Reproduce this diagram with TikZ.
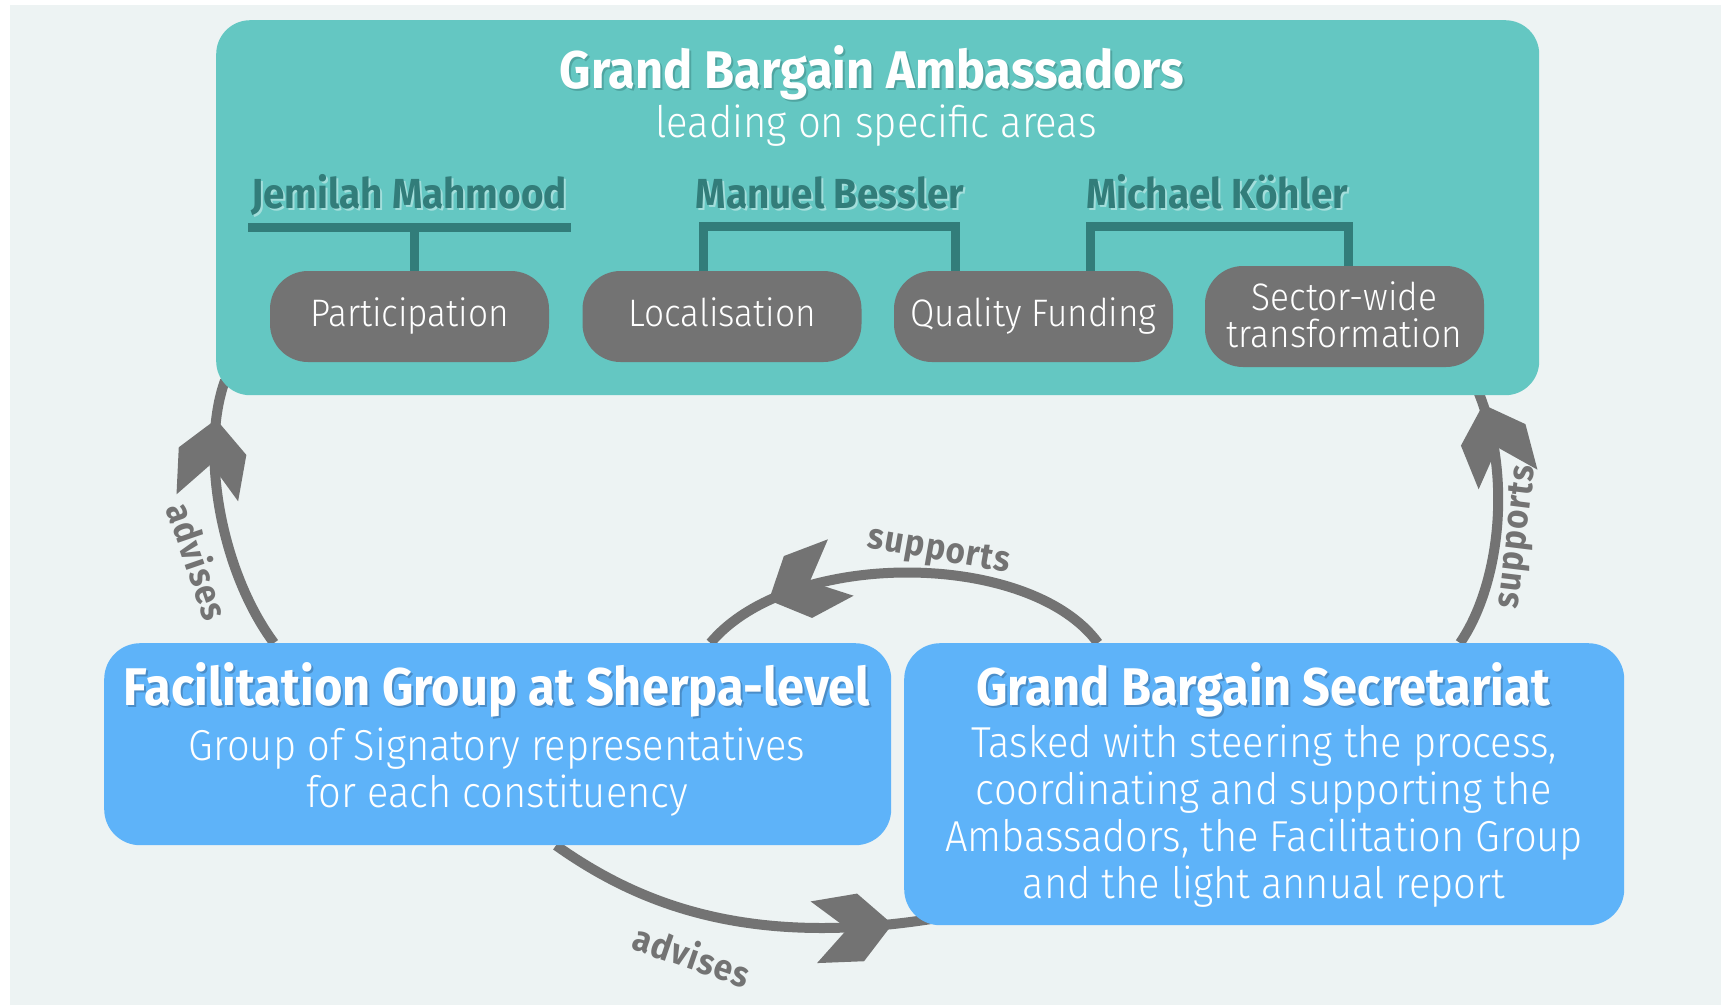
\documentclass[tikz,border=0pt]{standalone}
\usepackage{fontspec}
\setmainfont{Fira Sans}[FakeStretch=0.92]
\IfFontExistsTF{Fira Sans Light}{\newfontfamily\lightfont{Fira Sans Light}[FakeStretch=0.92]}{\newcommand\lightfont{\normalfont}}
\usetikzlibrary{calc,decorations.markings}
\definecolor{bgc}{HTML}{EDF3F3}
\definecolor{tealbox}{HTML}{64C7C2}
\definecolor{tealdark}{HTML}{327D7A}
\definecolor{tealshadow}{HTML}{4FA5A1}
\definecolor{tealhi}{HTML}{A3DEDB}
\definecolor{pillc}{HTML}{737373}
\definecolor{bluebox}{HTML}{5EB3F9}
\definecolor{blueshadow}{HTML}{4A8DC8}
\definecolor{arrowc}{HTML}{737373}
\pgfdeclarelayer{bg}
\pgfsetlayers{bg,main}
\newcommand\shtext[2]{\leavevmode\rlap{\kern2pt\raisebox{-2pt}{\color{#1}#2}}#2}
\tikzset{
  flow/.style={draw=arrowc, line width=10pt, postaction={decorate},
    decoration={markings, mark=at position #1 with {\fill[arrowc] (2,0) -- (-30,34) -- (-77,31) -- (-43,0) -- (-77,-31) -- (-30,-34) -- cycle;}}},
  pillbox/.style={fill=pillc, rounded corners=38pt, minimum width=279pt, minimum height=91pt,
    text=white, align=center, inner sep=0pt, font=\fontsize{38.3}{37}\selectfont\lightfont},
  onepill/.style={pillbox, text height=28pt, text depth=9pt},
  bluerect/.style={fill=bluebox, rounded corners=36pt, inner sep=0pt, anchor=north west},
  bracket/.style={draw=tealdark, line width=9pt, line join=miter},
  namelbl/.style={text=tealdark, anchor=base, inner sep=0pt, font=\fontsize{42}{44}\selectfont\bfseries},
  titlelbl/.style={text=white, anchor=base, inner sep=0pt, font=\fontsize{53}{56}\selectfont\bfseries},
  bodylbl/.style={text=white, anchor=north, inner sep=0pt, align=center, font=\fontsize{43.3}{47}\selectfont\lightfont},
  flowlbl/.style={text=arrowc, inner sep=0pt, font=\fontsize{36}{38}\selectfont\bfseries\addfontfeature{LetterSpace=3}},
}
\begin{document}
\begin{tikzpicture}[x=1pt,y=-1pt]
\useasboundingbox (0,0) rectangle (1721,1005);
% boxes
\node[fill=tealbox, rounded corners=34pt, minimum width=1323pt, minimum height=375pt, inner sep=0pt, anchor=north west] (amb) at (216,20) {};
\node[bluerect, minimum width=787pt, minimum height=202pt] (fg) at (104,643) {};
\node[bluerect, minimum width=720pt, minimum height=282pt] (sec) at (904,643) {};
% top box texts
\node[titlelbl] (ambt) at (872,88) {\shtext{tealshadow}{Grand Bargain Ambassadors}};
\node[text=white, anchor=base, inner sep=0pt, font=\fontsize{43.5}{48}\selectfont\lightfont] (ambs) at (876,137) {leading on specific areas};
\node[namelbl] (n1) at (409,208) {\shtext{tealhi}{Jemilah Mahmood}};
\node[namelbl] (n2) at (830,208) {\shtext{tealhi}{Manuel Bessler}};
\node[namelbl] (n3) at (1217,208) {\shtext{tealhi}{Michael Köhler}};
% pills
\node[onepill] (p1) at (409.5,316.5) {Participation};
\node[onepill] (p2) at (722,316.5) {Localisation};
\node[onepill] (p3) at (1033.5,316.5) {Quality Funding};
\node[pillbox, minimum height=101pt] (p4) at (1344.5,316.5) {\raisebox{4pt}{Sector-wide}\\\raisebox{4pt}{transformation}};
% brackets
\coordinate (jl) at (248,227);
\coordinate (jr) at (571,227);
\draw[bracket] (jl) -- (jr);
\draw[bracket] ($(p1.north)+(5,0)$) -- ($(p1.north)+(5,-44)$);
\draw[bracket] ($(p2.north west)+(121,0)$) |- ($(p3.north west)+(62,-44)$) -- ($(p3.north west)+(62,0)$);
\draw[bracket] ($(p3.north west)+(197,0)$) |- ($(p4.north west)+(144,-39)$) -- ($(p4.north west)+(144,0)$);
% blue box texts
\node[titlelbl] (fgt) at (497,705) {\shtext{blueshadow}{Facilitation Group at Sherpa-level}};
\node[bodylbl] (fgb) at (497,728) {Group of Signatory representatives\\for each constituency};
\node[titlelbl] (sect) at (1263,705) {\shtext{blueshadow}{Grand Bargain Secretariat}};
\node[bodylbl] (secb) at (1264,725) {Tasked with steering the process,\\coordinating and supporting the\\Ambassadors, the Facilitation Group\\and the light annual report};
% flows
\begin{pgfonlayer}{bg}
\fill[white] (0,0) rectangle (1721,1005);
\fill[bgc] (10,5) rectangle (1721,1005);
\draw[flow=-42pt] ($(fg.north west)+(170,0)$) .. controls (220,570) and (200,450) .. ($(amb.south west)+(9,-15)$);
\draw[flow=-28pt] ($(sec.north west)+(556,0)$) .. controls (1500,585) and (1515,470) .. ($(amb.south east)+(-66,-15)$);
\draw[flow=-75pt] ($(sec.north west)+(194,0)$) .. controls (1030,550) and (790,548) .. ($(fg.north east)+(-181,0)$);
\draw[flow=-45pt] ($(fg.south west)+(452,0)$) .. controls (640,905) and (750,948) .. ($(sec.south west)+(31,-7)$);
\end{pgfonlayer}
\node[flowlbl, rotate=-71] (l1) at (199,561) {advises};
\node[flowlbl, rotate=83] (l2) at (1518,537) {supports};
\node[flowlbl, rotate=-10] (l3) at (939,552) {supports};
\node[flowlbl, rotate=-19] (l4) at (692,955) {advises};
\end{tikzpicture}
\end{document}
